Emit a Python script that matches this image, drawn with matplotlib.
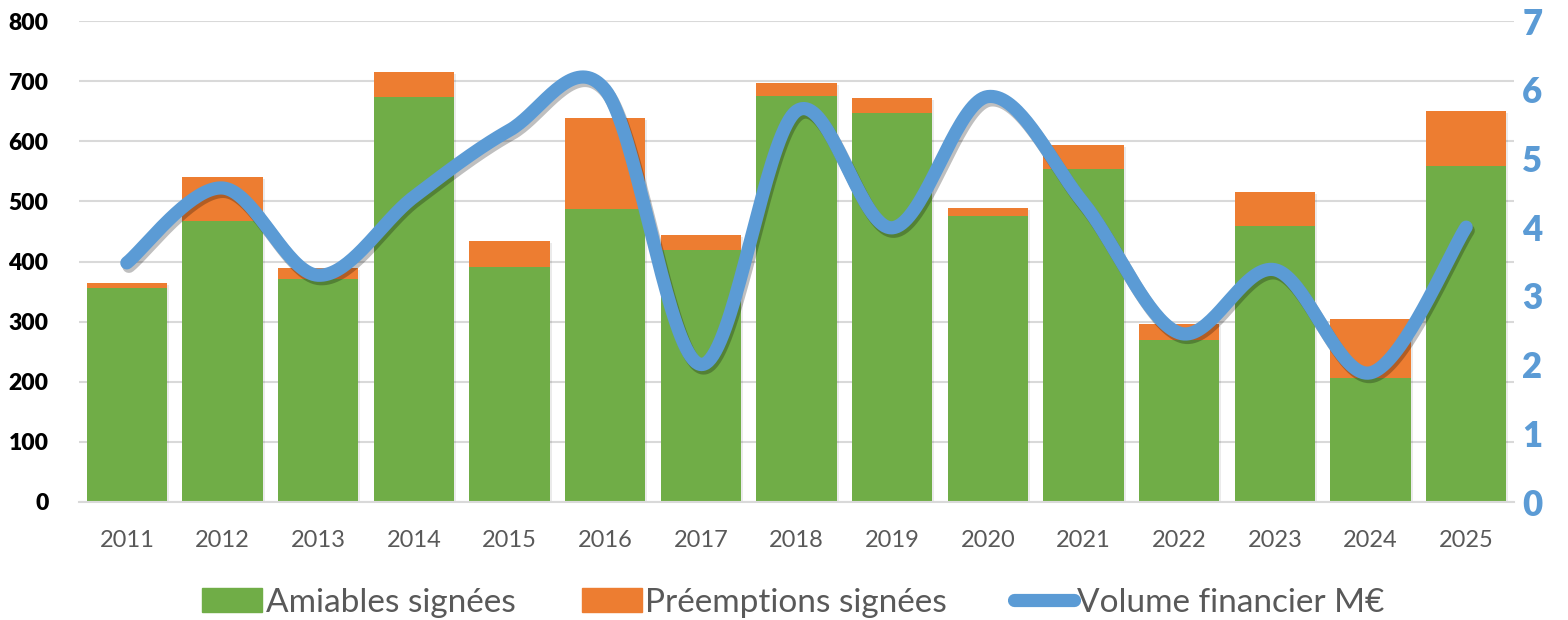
import numpy as np
import matplotlib.pyplot as plt
import matplotlib.patheffects as pe
from matplotlib.patches import Patch
from matplotlib.lines import Line2D

years = ['2011', '2012', '2013', '2014', '2015', '2016', '2017', '2018',
         '2019', '2020', '2021', '2022', '2023', '2024', '2025']
amiables = [356, 467, 371, 674, 391, 487, 419, 675, 647, 476, 554, 270, 459, 206, 559]
totals = [364, 541, 389, 715, 434, 639, 444, 697, 672, 489, 594, 296, 516, 304, 650]
preemptions = [t - a for t, a in zip(totals, amiables)]
volume = [3.48, 4.57, 3.30, 4.44, 5.41, 6.00, 2.00, 5.69, 3.99, 5.90, 4.35, 2.46, 3.38, 1.88, 4.00]
left_ticks = [0, 100, 200, 300, 400, 500, 600, 700, 800]
right_ticks = [0, 1, 2, 3, 4, 5, 6, 7]

green = '#70AD47'
orange = '#ED7D31'
blue = '#5B9BD5'
grey_txt = '#595959'
grid_c = '#D9D9D9'


def smooth(xs, ys, n=40):
    # Excel-like smoothed line (Catmull-Rom as cubic Bezier)
    p = np.column_stack([xs, ys]).astype(float)
    p = np.vstack([p[0], p, p[-1]])
    out = []
    t = np.linspace(0, 1, n)[:, None]
    for i in range(1, len(p) - 2):
        p0, p3 = p[i], p[i + 1]
        b1 = p0 + (p[i + 1] - p[i - 1]) / 6
        b2 = p3 - (p[i + 2] - p[i]) / 6
        seg = ((1 - t) ** 3) * p0 + 3 * ((1 - t) ** 2) * t * b1 + 3 * (1 - t) * t ** 2 * b2 + t ** 3 * p3
        out.append(seg if i == 1 else seg[1:])
    out = np.vstack(out)
    return out[:, 0], out[:, 1]


plt.rcParams['font.family'] = ['Lato', 'DejaVu Sans']

fig = plt.figure(figsize=(15.68, 6.2), dpi=100)
ax = fig.add_axes([79 / 1568, 1 - 502 / 620, (1514 - 79) / 1568, (502 - 21) / 620])

x = np.arange(len(years))
# light shadow behind the full stacks
ax.bar(x + 0.02, totals, width=0.84, bottom=-3, color='#000000', alpha=0.08, zorder=1)
ax.bar(x, amiables, width=0.84, color=green, zorder=2)
ax.bar(x, preemptions, width=0.84, bottom=amiables, color=orange, zorder=2)

ax.set_xlim(-0.5, len(years) - 0.5)
ax.set_ylim(0, 800)
ax.set_yticks(left_ticks, labels=[str(v) for v in left_ticks], fontweight='heavy',
              fontsize=16.5, color='black')
ax.set_xticks(x)
ax.set_xticklabels(years)
ax.grid(axis='y', color=grid_c, linewidth=1.5, zorder=0)
ax.set_axisbelow(True)
for s in ['top', 'right', 'left']:
    ax.spines[s].set_visible(False)
ax.spines['bottom'].set_color(grid_c)
ax.spines['bottom'].set_linewidth(1.5)
ax.tick_params(axis='both', length=0)
ax.tick_params(axis='y', pad=22)
ax.tick_params(axis='x', pad=20, labelsize=17, labelcolor=grey_txt)

ax2 = ax.twinx()
ax2.set_ylim(0, 7)
ax2.set_yticks(right_ticks, labels=[str(v) for v in right_ticks], fontweight='heavy',
               fontsize=25, color=blue)
sx, sy = smooth(x, volume)
ax2.plot(sx, sy, color=blue, linewidth=9.5, solid_capstyle='round', zorder=3,
         path_effects=[pe.SimpleLineShadow(offset=(1.5, -2.5), alpha=0.25), pe.Normal()])
for s in ['top', 'right', 'left', 'bottom']:
    ax2.spines[s].set_visible(False)
ax2.tick_params(axis='y', length=0, pad=6)

handles = [Patch(color=green), Patch(color=orange),
           Line2D([0], [0], color=blue, linewidth=9.5, solid_capstyle='round')]
labels = ['Amiables signées', 'Préemptions signées', 'Volume financier M€']
leg = fig.legend(handles, labels, loc='center', bbox_to_anchor=(0.506, 0.028), ncol=3,
                 frameon=False, fontsize=24, handlelength=1.8, handleheight=0.75,
                 handletextpad=0.1, columnspacing=2.0, labelcolor=grey_txt)

fig.savefig('out.png', dpi=100)
